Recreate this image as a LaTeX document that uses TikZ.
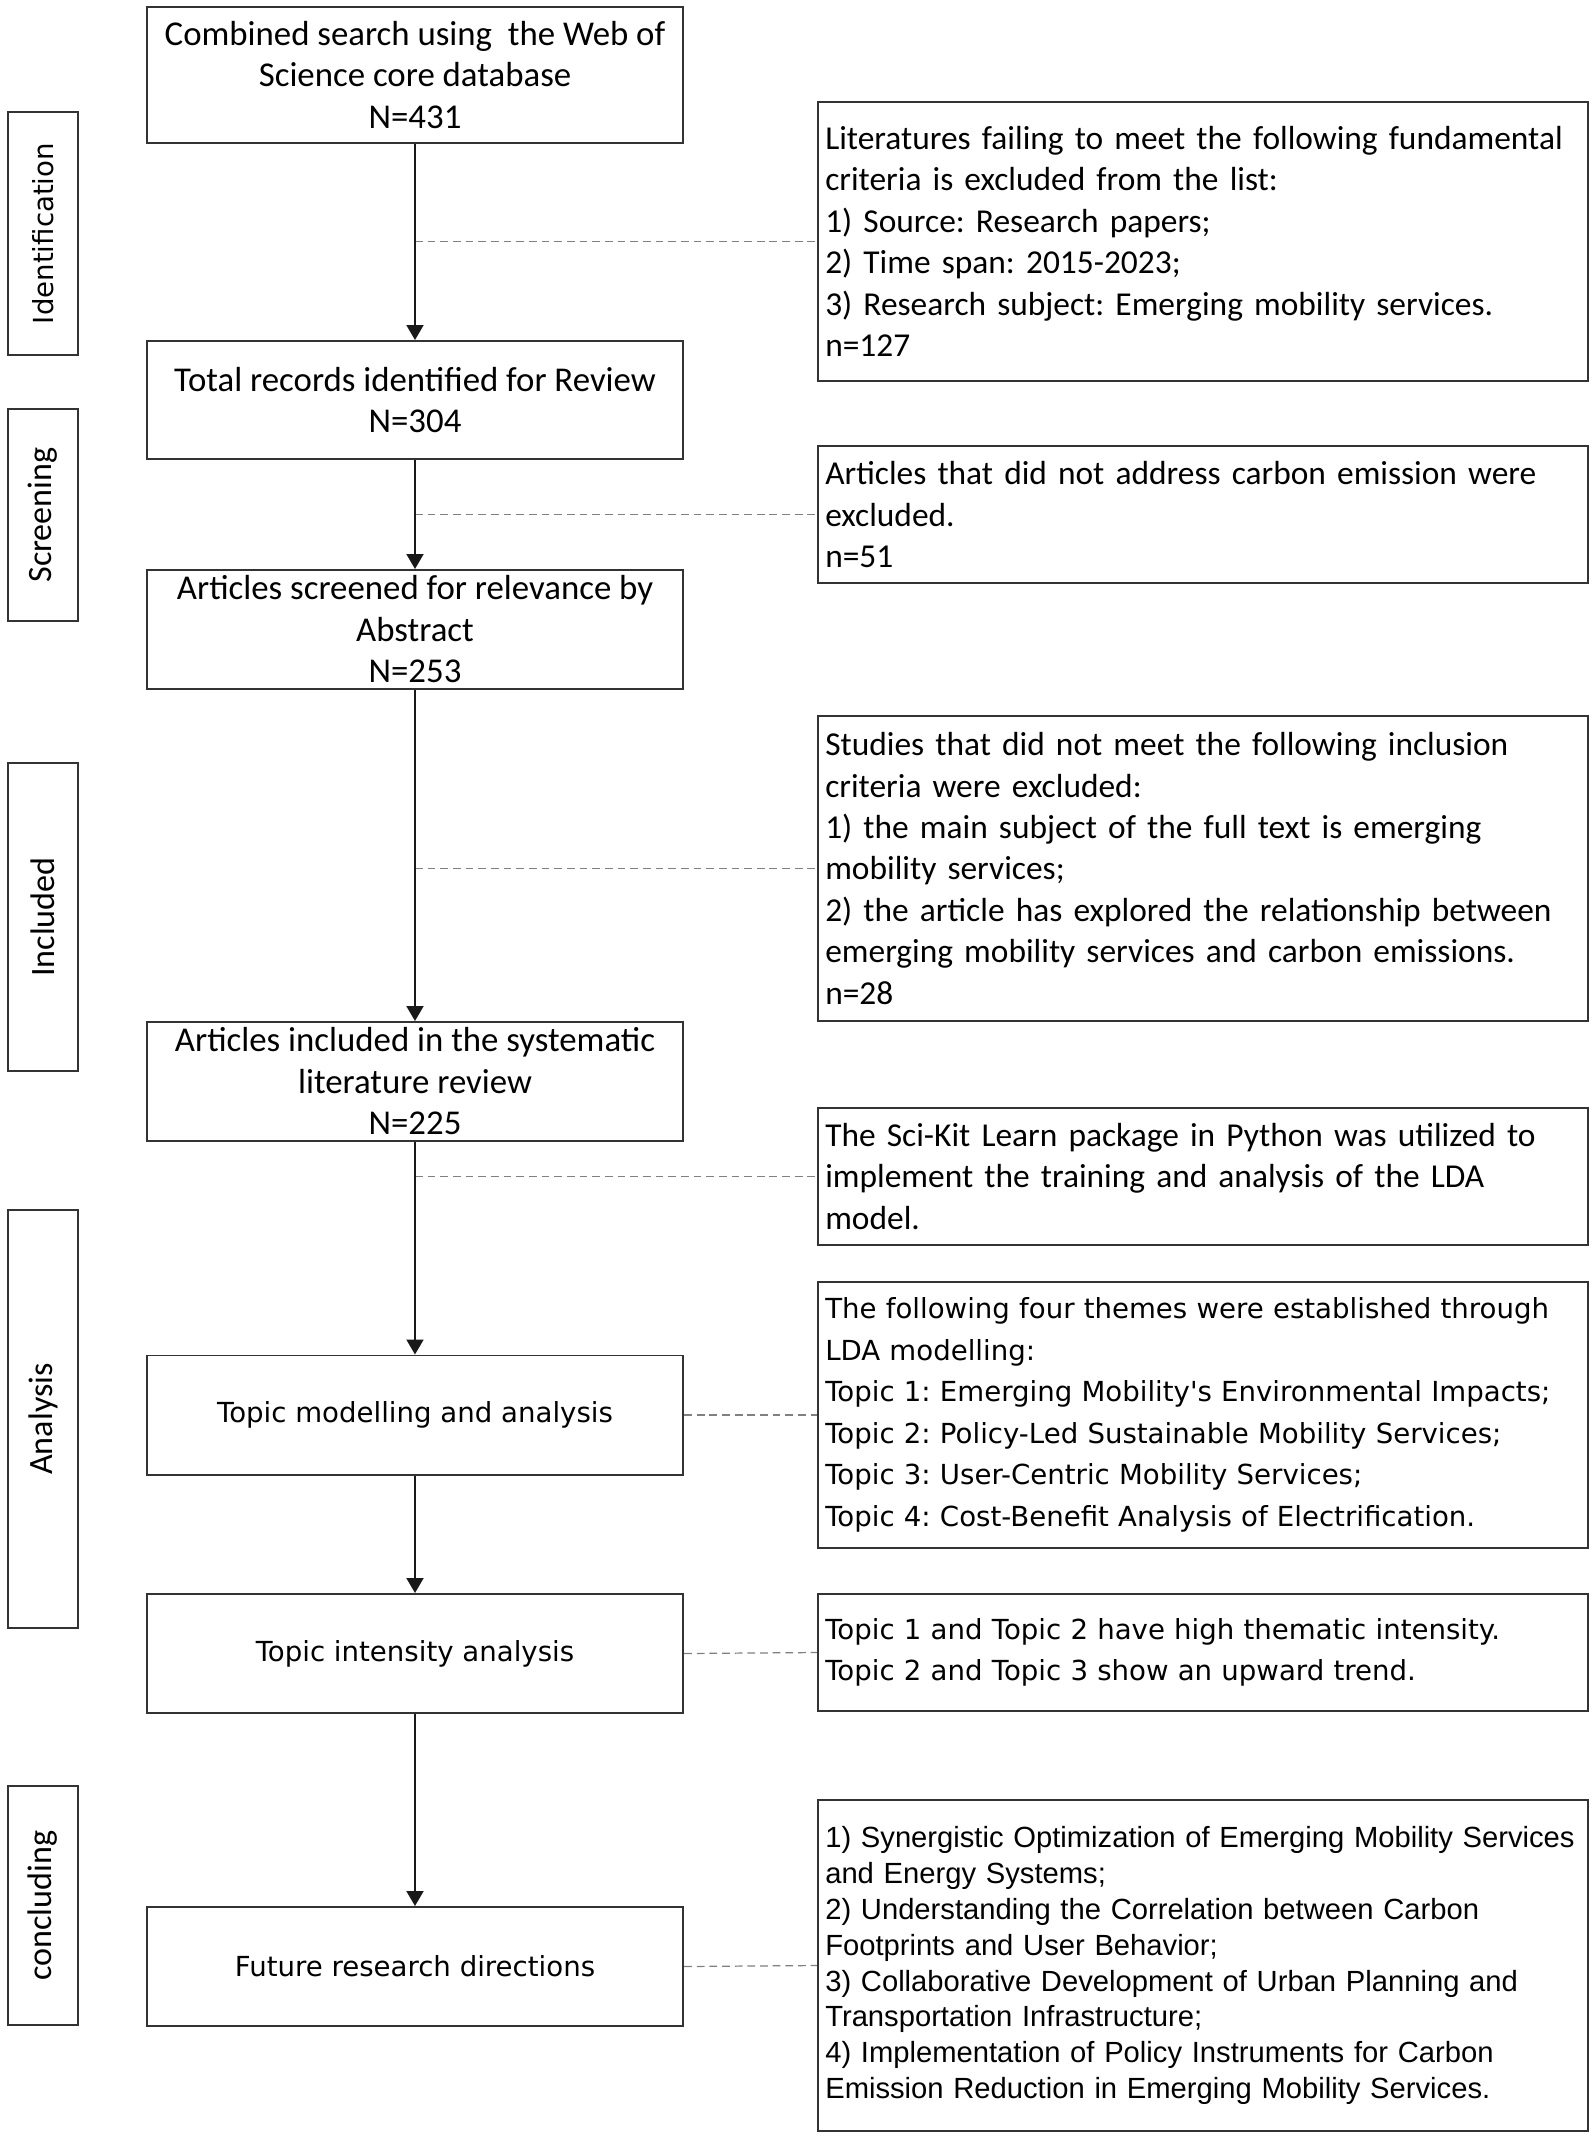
\documentclass[tikz,border=0pt]{standalone}
\usepackage{fontspec}
\setmainfont{Carlito}
\newfontfamily\verdfont{DejaVu Sans}
\newfontfamily\arialfont{Liberation Sans}
\usetikzlibrary{positioning,arrows.meta}
\frenchspacing

\begin{document}
\begin{tikzpicture}[
  x=0.01cm, y=-0.01cm,
  every node/.style={
    rectangle,
    draw=black!80,
    line width=0.55pt,
    inner sep=0pt
  },
  flowbox/.style={minimum width=5.36cm, minimum height=1.19cm, align=center, font=\fontsize{9.9}{11.8}\selectfont},
  notebox/.style={text width=7.55cm, inner xsep=0.075cm, align=left, font=\fontsize{9.5}{11.8}\selectfont},
  phasebox/.style={rotate=90, minimum height=0.7cm, font=\fontsize{9.7}{11.8}\selectfont},
  verd/.style={font=\verdfont\fontsize{7.85}{11.8}\selectfont},
  arial/.style={font=\arialfont\fontsize{8.3}{10.2}\selectfont},
  arrow/.style={-{Triangle[length=1.5mm,width=1.7mm]}, line width=0.55pt, black!90},
  dashline/.style={gray, line width=0.35pt, dash pattern=on 2.2pt off 1.4pt}
]
\useasboundingbox (0,0) rectangle (1595,2138);

% Phase labels on the left
\node[phasebox, verd, minimum width=2.43cm] (P1) at (43,233.5) {Identification};
\node[phasebox, minimum width=2.11cm] (P2) at (43,515) {Screening};
\node[phasebox, minimum width=3.08cm] (P3) at (43,917) {Included};
\node[phasebox, minimum width=4.18cm] (P4) at (43,1419) {Analysis};
\node[phasebox, minimum width=2.39cm] (P5) at (43,1905.5) {concluding};

% Main flow
\node[flowbox, minimum height=1.36cm] (B1) at (415,75) {Combined search using~ the Web of\\Science core database\\N=431};
\node[flowbox, minimum height=1.18cm] (B2) at (415,400) {Total records identified for Review\\N=304};
\node[flowbox] (B3) at (415,629.5) {Articles screened for relevance by\\Abstract\\N=253};
\node[flowbox] (B4) at (415,1081.5) {Articles included in the systematic\\literature review\\N=225};
\node[flowbox, verd] (B5) at (415,1415) {Topic modelling and analysis};
\node[flowbox, verd] (B6) at (415,1653.5) {Topic intensity analysis};
\node[flowbox, verd] (B7) at (415,1966.5) {Future research directions};

% Notes on the right
\node[notebox, minimum height=2.79cm] (R1) at (1203,241.5) {Literatures failing to meet the following fundamental\\criteria is excluded from the list:\\1) Source: Research papers;\\2) Time span: 2015-2023;\\3) Research subject: Emerging mobility services.\\n=127};
\node[notebox, minimum height=1.37cm] (R2) at (1203,514.5) {Articles that did not address carbon emission were\\excluded.\\n=51};
\node[notebox, minimum height=3.05cm] (R3) at (1203,868.5) {Studies that did not meet the following inclusion\\criteria were excluded:\\1) the main subject of the full text is emerging\\mobility services;\\2) the article has explored the relationship between\\emerging mobility services and carbon emissions.\\n=28};
\node[notebox, minimum height=1.37cm] (R4) at (1203,1176.5) {The Sci-Kit Learn package in Python was utilized to\\implement the training and analysis of the LDA\\model.};
\node[notebox, verd, minimum height=2.66cm] (R5) at (1203,1415) {The following four themes were established through\\LDA modelling:\\Topic 1: Emerging Mobility's Environmental Impacts;\\Topic 2: Policy-Led Sustainable Mobility Services;\\Topic 3: User-Centric Mobility Services;\\Topic 4: Cost-Benefit Analysis of Electrification.};
\node[notebox, verd, minimum height=1.17cm] (R6) at (1203,1652.5) {Topic 1 and Topic 2 have high thematic intensity.\\Topic 2 and Topic 3 show an upward trend.};
\node[notebox, arial, minimum height=3.31cm] (R7) at (1203,1965.5) {1) Synergistic Optimization of Emerging Mobility Services\\and Energy Systems;\\2) Understanding the Correlation between Carbon\\Footprints and User Behavior;\\3) Collaborative Development of Urban Planning and\\Transportation Infrastructure;\\4) Implementation of Policy Instruments for Carbon\\Emission Reduction in Emerging Mobility Services.};

% Dashed links to the notes
\draw[dashline] (B1.south |- R1.west) -- (R1.west);
\draw[dashline] (B2.south |- R2.west) -- (R2.west);
\draw[dashline] (B3.south |- R3.west) -- (R3.west);
\draw[dashline] (B4.south |- R4.west) -- (R4.west);
\draw[dashline] (B5.east) -- (R5.west);
\draw[dashline] (B6.east) -- (R6.west);
\draw[dashline] (B7.east) -- (R7.west);

% Arrows down the flow
\draw[arrow] (B1.south) -- (B2.north);
\draw[arrow] (B2.south) -- (B3.north);
\draw[arrow] (B3.south) -- (B4.north);
\draw[arrow] (B4.south) -- (B5.north);
\draw[arrow] (B5.south) -- (B6.north);
\draw[arrow] (B6.south) -- (B7.north);

\end{tikzpicture}
\end{document}
